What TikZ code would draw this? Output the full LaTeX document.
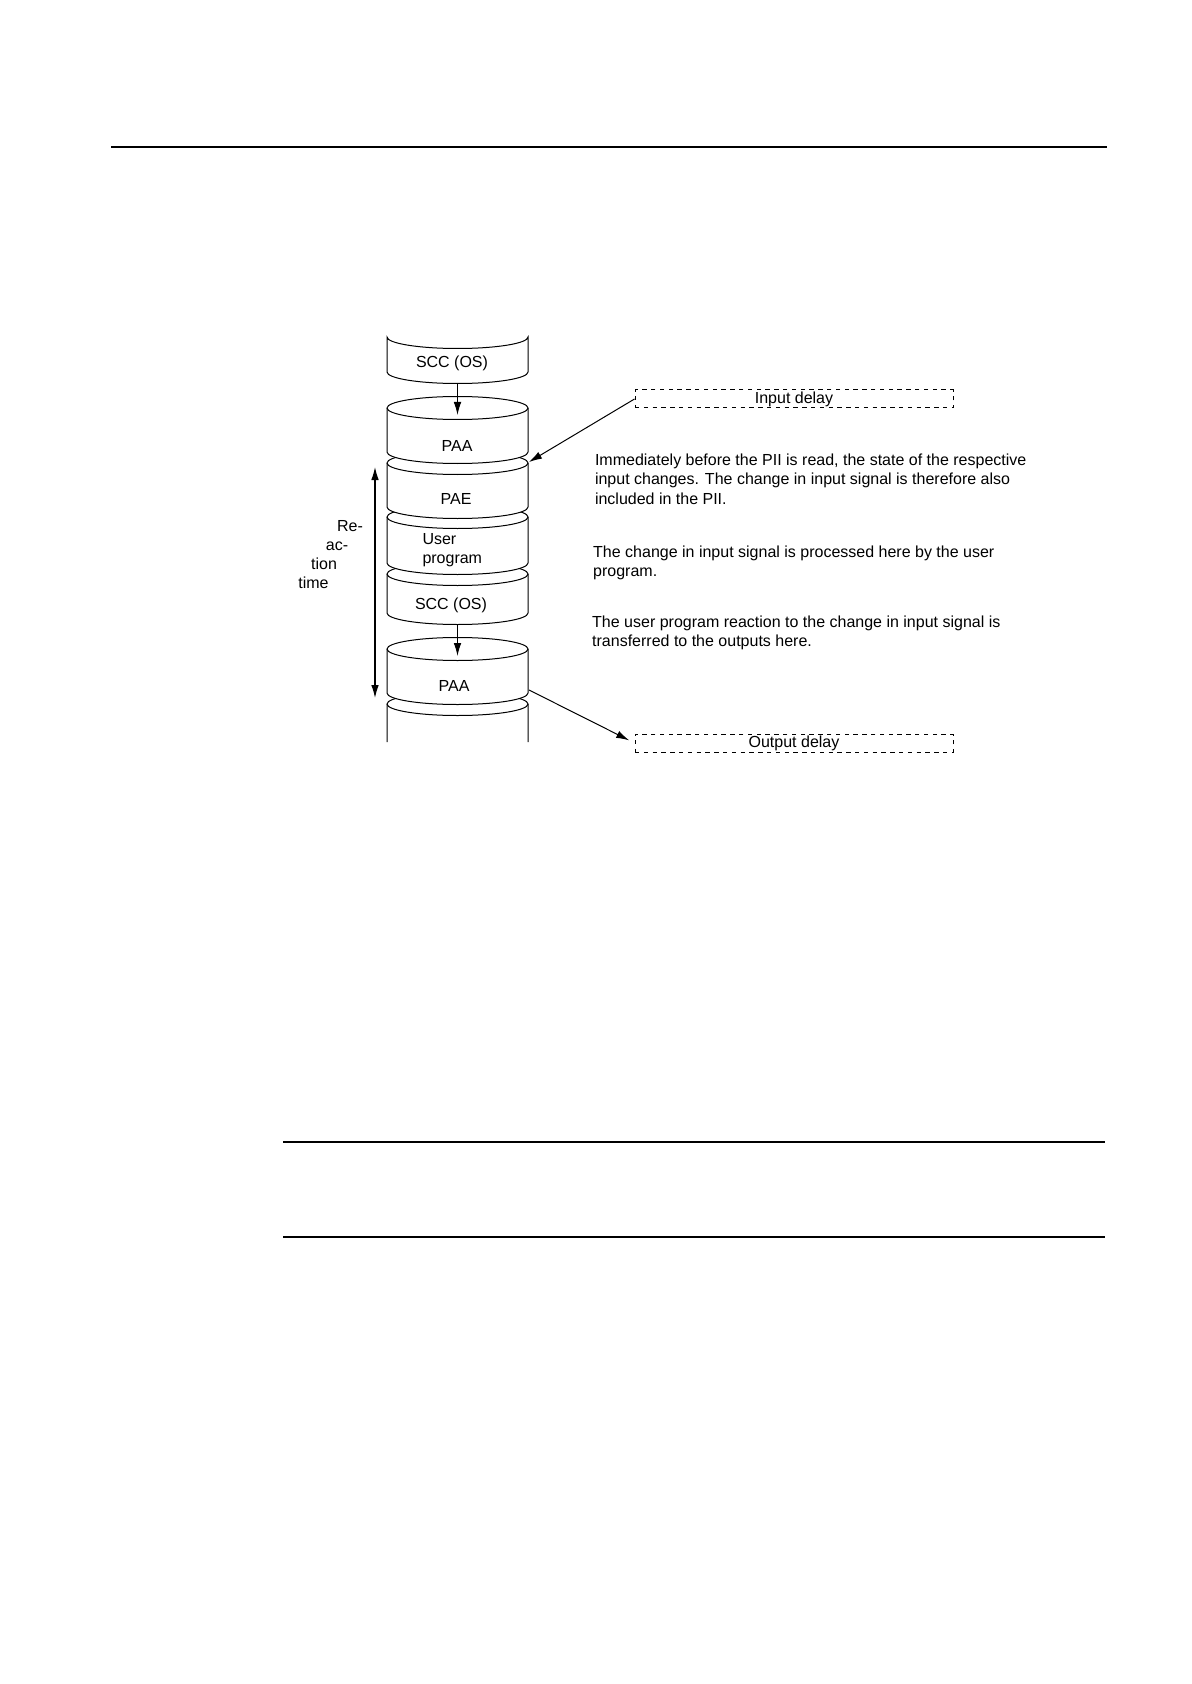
\documentclass[tikz,border=0pt]{standalone}
\usepackage{fontspec}
\setmainfont{Liberation Sans}
\usetikzlibrary{arrows.meta}

\tikzstyle{drum}=[draw, fill=white]
\tikzstyle{rad}=[x radius=35.25pt, y radius=5.75pt]
\tikzstyle{txt}=[font=\fontsize{8}{9.7}\selectfont, inner sep=0pt]
\tikzstyle{delay}=[txt, draw, dash pattern=on 2.2pt off 2.2pt, minimum width=159pt, minimum height=9pt]
\tikzstyle{info}=[txt, anchor=base west, align=left]

\begin{document}
\begin{tikzpicture}[x=0.5pt, y=-0.5pt, line width=0.5pt, >={Latex[length=6.5pt, width=3.8pt]}]

\useasboundingbox [fill=white] (0, 0) rectangle (1191, 1684);

\draw [line width=1pt] (111, 147.5) to (1107, 147.5);
\draw [line width=0.75pt] (283, 1142) to (1105, 1142);
\draw [line width=0.75pt] (283, 1237) to (1105, 1237);

% drums, lowest first
\fill [white] (387, 742) -- (387, 704) arc [rad, start angle=180, end angle=0] -- (528, 742) -- cycle;
\draw (387, 742) -- (387, 704) arc [rad, start angle=180, end angle=0] -- (528, 742);
\draw (387, 704) arc [rad, start angle=180, end angle=360];

\filldraw [drum] (387, 649) -- (387, 693) arc [rad, start angle=180, end angle=360] -- (528, 649) arc [rad, start angle=0, end angle=180] -- cycle;
\draw (387, 649) arc [rad, start angle=180, end angle=360];

\filldraw [drum] (387, 574) -- (387, 613) arc [rad, start angle=180, end angle=360] -- (528, 574) arc [rad, start angle=0, end angle=180] -- cycle;
\draw (387, 574) arc [rad, start angle=180, end angle=360];

\filldraw [drum] (387, 517) -- (387, 563) arc [rad, start angle=180, end angle=360] -- (528, 517) arc [rad, start angle=0, end angle=180] -- cycle;
\draw (387, 517) arc [rad, start angle=180, end angle=360];

\filldraw [drum] (387, 463) -- (387, 507) arc [rad, start angle=180, end angle=360] -- (528, 463) arc [rad, start angle=0, end angle=180] -- cycle;
\draw (387, 463) arc [rad, start angle=180, end angle=360];

\filldraw [drum] (387, 408) -- (387, 452) arc [rad, start angle=180, end angle=360] -- (528, 408) arc [rad, start angle=0, end angle=180] -- cycle;
\draw (387, 408) arc [rad, start angle=180, end angle=360];

\filldraw [drum] (387, 337) -- (387, 372) arc [rad, start angle=180, end angle=360] -- (528, 337) arc [rad, start angle=0, end angle=-180] -- cycle;

\node [txt] (scc1) at (452, 363.5) {SCC (OS)};
\node [txt] (paa1) at (457, 446) {PAA};
\node [txt] (pae) at (456, 499) {PAE};
\node [txt, anchor=west, align=left] (user) at (422, 550) {User\\program};
\node [txt] (scc2) at (451, 605) {SCC (OS)};
\node [txt] (paa2) at (454, 686) {PAA};

\coordinate (scc1b) at (457.5, 383.5);
\coordinate (paa1t) at (457.5, 415);
\coordinate (scc2b) at (457.5, 624.5);
\coordinate (paa2t) at (457.5, 656);
\draw [->] (scc1b) to (paa1t);
\draw [->] (scc2b) to (paa2t);

\coordinate (rtop) at (375, 467);
\coordinate (rbot) at (375, 698);
\draw [<->, line width=0.6pt] (rtop) to (rbot);
\node [txt] (re) at (350, 526) {Re-};
\node [txt] (ac) at (337, 546) {ac-};
\node [txt] (tion) at (324, 564) {tion};
\node [txt] (time) at (313.5, 583) {time};

\node [delay] (indelay) at (794, 399) {Input delay};
\node [delay] (outdelay) at (794, 743) {Output delay};

\coordinate (inhit) at (529, 462);
\coordinate (outfrom) at (529, 690);
\draw [->] (indelay.west) to (inhit);
\draw [->, shorten >=3pt] (outfrom) to (outdelay.west);

\node [info] (read) at (594.5, 504) {Immediately before the PII is read, the state of the respective\\input changes. The change in input signal is therefore also\\included in the PII.};
\node [info] (proc) at (592.7, 576.7) {The change in input signal is processed here by the user\\program.};
\node [info] (trans) at (591.7, 646.7) {The user program reaction to the change in input signal is\\transferred to the outputs here.};

\end{tikzpicture}
\end{document}
